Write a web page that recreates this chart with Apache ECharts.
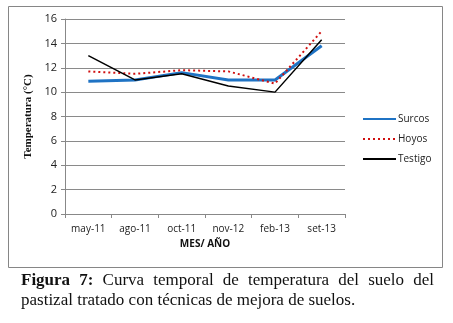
<!DOCTYPE html>
<html>
<head>
<meta charset="utf-8">
<script src="https://cdn.jsdelivr.net/npm/echarts@6/dist/echarts.min.js"></script>
<style>
  html, body { margin: 0; padding: 0; background: #fff; }
  #main { width: 453px; height: 323px; }
</style>
</head>
<body>
<div id="main"></div>
<script>
// categorias (mes/año)
var meses = ["may-11", "ago-11", "oct-11", "nov-12", "feb-13", "set-13"];
// temperatura del suelo (°C)
var surcos = [10.9, 11.0, 11.6, 11.0, 11.0, 13.8];
var hoyos = [11.7, 11.5, 11.8, 11.7, 10.7, 15.0];
var testigo = [13.0, 11.0, 11.5, 10.5, 10.0, 14.3];
var yTicks = [0, 2, 4, 6, 8, 10, 12, 14, 16];

var chartDom = document.getElementById("main");
var myChart = echarts.init(chartDom, null, { renderer: "canvas" });

var sans = "'Open Sans', sans-serif";
var serif = "'Liberation Serif', 'DejaVu Serif', serif";

// pie de figura: la primera linea va justificada (palabra por palabra)
var linea1 = [
  ["Figura", true], ["7:", true], ["Curva"], ["temporal"], ["de"],
  ["temperatura"], ["del"], ["suelo"], ["del"]
];
var linea2 = "pastizal tratado con técnicas de mejora de suelos.";
var xIni = 21, xFin = 434;

var ctx = document.createElement("canvas").getContext("2d");
function fuente(b) {
  return (b ? "bold " : "") + "17px " + serif;
}
var anchos = linea1.map(function (w) {
  ctx.font = fuente(w[1]);
  return ctx.measureText(w[0]).width;
});
var total = anchos.reduce(function (a, b) { return a + b; }, 0);
var hueco = (xFin - xIni - total) / (linea1.length - 1);

var graficos = [
  {
    type: "rect",
    shape: { x: 8.5, y: 6.5, width: 434, height: 261 },
    style: { fill: "none", stroke: "#868686", lineWidth: 1 },
    silent: true,
  },
];
var x = xIni;
linea1.forEach(function (w, i) {
  graficos.push({
    type: "text",
    x: x,
    y: 281,
    style: {
      text: w[0],
      font: fuente(w[1]),
      fill: "#111",
      verticalAlign: "middle",
    },
  });
  x += anchos[i] + hueco;
});
graficos.push({
  type: "text",
  x: xIni,
  y: 301,
  style: {
    text: linea2,
    font: fuente(false),
    fill: "#111",
    verticalAlign: "middle",
  },
});

var option = {
  animation: false,
  backgroundColor: "#fff",
  grid: {
    left: 65,
    right: 108,
    top: 19,
    bottom: 109,
  },
  legend: {
    orient: "vertical",
    left: 357,
    top: 109,
    itemWidth: 33,
    itemHeight: 10,
    itemGap: 10,
    itemStyle: { opacity: 0 },
    textStyle: { fontFamily: sans, fontSize: 10, color: "#222", padding: [0, 0, 0, -3] },
    data: ["Surcos", "Hoyos", "Testigo"],
  },
  xAxis: {
    type: "category",
    data: meses,
    boundaryGap: true,
    name: "MES/ AÑO",
    nameLocation: "middle",
    nameGap: 23,
    nameTextStyle: { fontFamily: sans, fontSize: 10, fontWeight: "bold", color: "#111" },
    axisLine: { lineStyle: { color: "#888", width: 1 } },
    axisTick: { show: true, length: 4, lineStyle: { color: "#888" } },
    axisLabel: { fontFamily: sans, fontSize: 10, color: "#222", margin: 10 },
  },
  yAxis: {
    type: "value",
    min: yTicks[0],
    max: yTicks[yTicks.length - 1],
    interval: yTicks[1] - yTicks[0],
    name: "Temperatura (°C)",
    nameLocation: "middle",
    nameGap: 31,
    nameTextStyle: { fontFamily: serif, fontSize: 11, fontWeight: "bold", color: "#111" },
    axisLine: { show: true, lineStyle: { color: "#888", width: 1 } },
    axisTick: { show: true, length: 4, lineStyle: { color: "#888" } },
    axisLabel: { fontFamily: sans, fontSize: 11, color: "#222", margin: 8 },
    splitLine: { lineStyle: { color: "#8a8a8a", width: 1 } },
  },
  series: [
    {
      name: "Surcos",
      type: "line",
      data: surcos,
      symbol: "none",
      lineStyle: { color: "#1f73c4", width: 3 },
      itemStyle: { color: "#1f73c4" },
    },
    {
      name: "Hoyos",
      type: "line",
      data: hoyos,
      symbol: "none",
      lineStyle: { color: "#d01010", width: 2, type: [2, 3] },
      itemStyle: { color: "#d01010" },
    },
    {
      name: "Testigo",
      type: "line",
      data: testigo,
      symbol: "none",
      lineStyle: { color: "#000", width: 1.5 },
      itemStyle: { color: "#000" },
    },
  ],
  graphic: graficos,
};

myChart.setOption(option);
window.addEventListener("resize", function () {
  myChart.resize();
});
</script>
</body>
</html>
